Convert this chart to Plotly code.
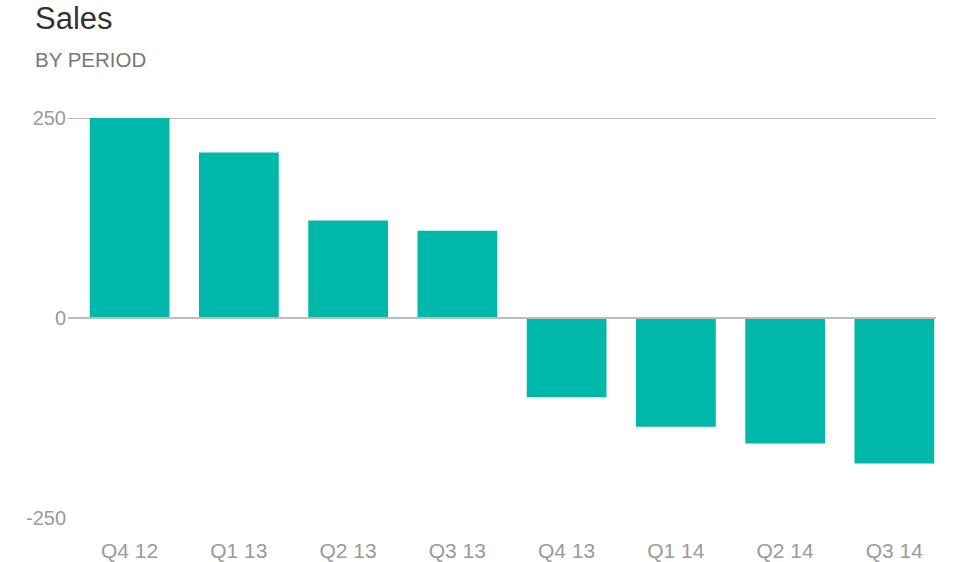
import plotly.graph_objects as go

periods = ["Q4 12", "Q1 13", "Q2 13", "Q3 13", "Q4 13", "Q1 14", "Q2 14", "Q3 14"]
sales = [250, 207, 122, 109, -99, -136, -157, -182]
y_ticks = [-250, 0, 250]

W, H = 963, 562
L, R, T, B = 75, 14, 118, 44
FONT = "Liberation Sans, Arial, sans-serif"
PW, PH = W - L - R, H - T - B

fig = go.Figure(
    go.Bar(
        x=periods,
        y=sales,
        marker=dict(color="#00b8aa", line=dict(width=0)),
        hoverinfo="x+y",
    )
)

gx0 = (68 - L) / PW
gx1 = (936 - L) / PW

fig.update_layout(
    width=W,
    height=H,
    margin=dict(l=L, r=R, t=T, b=B, pad=0, autoexpand=False),
    paper_bgcolor="white",
    plot_bgcolor="white",
    bargap=0.27,
    showlegend=False,
    font=dict(family=FONT, color="#999999"),
    xaxis=dict(
        type="category",
        automargin=False,
        showgrid=False,
        zeroline=False,
        showline=False,
        ticks="",
        tickfont=dict(size=21, color="#9a9a9a"),
        ticklabelstandoff=18,
    ),
    yaxis=dict(
        range=[-250, 250],
        automargin=False,
        tickvals=y_ticks,
        ticktext=[str(v) for v in y_ticks],
        showgrid=False,
        zeroline=False,
        showline=False,
        ticks="",
        tickfont=dict(size=20, color="#9a9a9a"),
        ticklabelstandoff=8,
    ),
    annotations=[
        dict(text="Sales", xref="paper", yref="paper",
             x=(33 - L) / PW, y=1 + (T + 1) / PH,
             xanchor="left", yanchor="top", showarrow=False,
             font=dict(size=31, color="#333333", family=FONT)),
        dict(text="BY PERIOD", xref="paper", yref="paper",
             x=(33 - L) / PW, y=1 + (T - 46) / PH,
             xanchor="left", yanchor="top", showarrow=False,
             font=dict(size=20.5, color="#777777", family=FONT)),
    ],
    shapes=[
        dict(type="line", xref="paper", yref="y",
             x0=gx0, x1=gx1, y0=250, y1=250,
             line=dict(color="#7a7a7a", width=1), layer="below"),
        dict(type="line", xref="paper", yref="y",
             x0=gx0, x1=gx1, y0=0, y1=0,
             line=dict(color="#bdbdbd", width=2), layer="above"),
    ],
)

fig.write_html(
    "out.html",
    config={"displayModeBar": False},
    post_script="document.body.style.margin='0';",
)
